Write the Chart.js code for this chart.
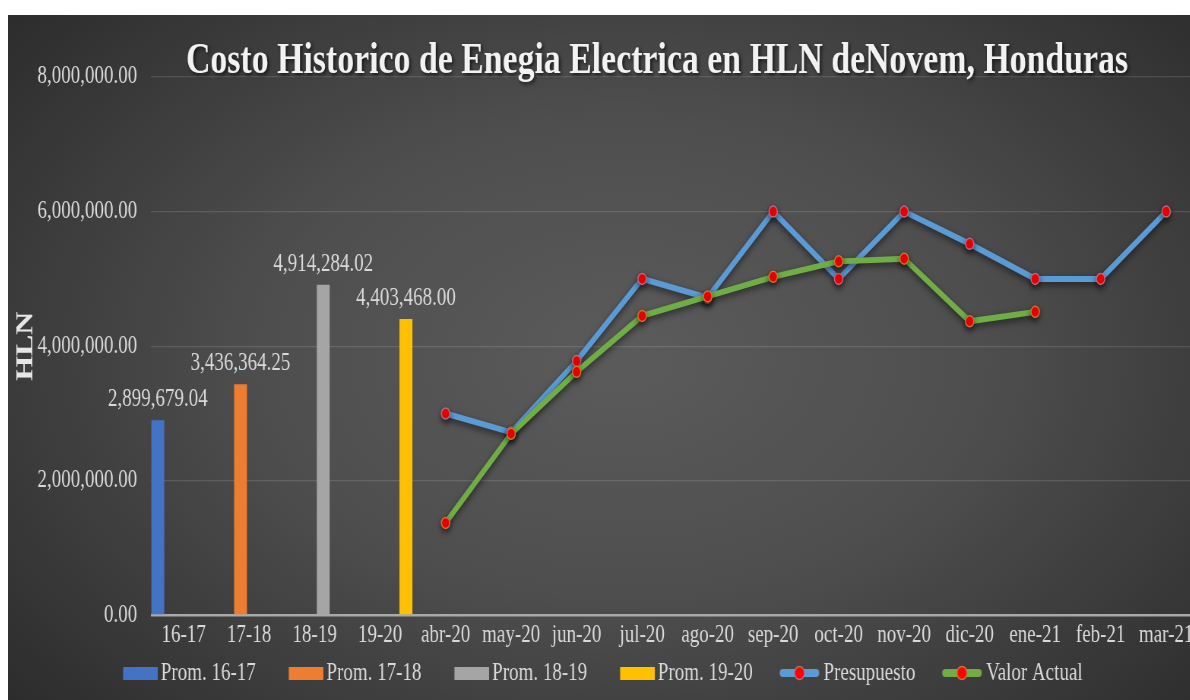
<!DOCTYPE html>
<html>
<head>
<meta charset="utf-8">
<title>Costo Historico de Energia Electrica</title>
<script src="https://cdn.jsdelivr.net/npm/chart.js@4.4.1/dist/chart.umd.min.js"></script>
<style>
  html, body { margin: 0; padding: 0; background: #fff; overflow: hidden; }
  #frame {
    position: absolute; left: 8px; top: 15px; width: 1182px; height: 685px; overflow: hidden;
    background: radial-gradient(ellipse 68% 78% at 52% 50%, #5b5b5b 0%, #4e4e4e 45%, #2c2c2c 100%);
  }
  /* chart is laid out wide and squeezed horizontally */
  #stage { width: 1600px; height: 685px; transform: scaleX(0.76); transform-origin: 0 0; }
</style>
</head>
<body>
<div id="frame">
  <div id="stage"><canvas id="chart"></canvas></div>
</div>
<script>
// ── Data ─────────────────────────────────────
const periods = ['16-17', '17-18', '18-19', '19-20', 'abr-20', 'may-20', 'jun-20', 'jul-20',
  'ago-20', 'sep-20', 'oct-20', 'nov-20', 'dic-20', 'ene-21', 'feb-21', 'mar-21'];

const promLabels = ['Prom. 16-17', 'Prom. 17-18', 'Prom. 18-19', 'Prom. 19-20'];
const promValues = [2899679.04, 3436364.25, 4914284.02, 4403468.00];
const promColors = ['#4472c4', '#ed7d31', '#a5a5a5', '#ffc000'];

const presupuesto = [null, null, null, null, 3000000, 2720000, 3780000, 5000000,
  4720000, 6000000, 5000000, 6000000, 5520000, 5000000, 5000000, 6000000];
const valorActual = [null, null, null, null, 1375000, 2700000, 3620000, 4450000,
  4740000, 5030000, 5260000, 5300000, 4370000, 4510000, null, null];

const yTicks = [0, 2000000, 4000000, 6000000, 8000000];
const chartTitle = 'Costo Historico de Enegia Electrica en HLN deNovem, Honduras';

const FONT = "'Liberation Serif', 'Times New Roman', serif";
const TXT = '#d9d9d9';

const fmt = v => v.toLocaleString('en-US', { minimumFractionDigits: 2, maximumFractionDigits: 2 });

// ── Legend swatches ──────────────────────────
const SW_BOX = 74.5;            // legend box width reserved by Chart.js
const SW_W = SW_BOX + 17;       // canvas width, content sits at its right side
function makeSwatch(ds) {
  const c = document.createElement('canvas');
  c.width = SW_W; c.height = 18;
  const g = c.getContext('2d');
  if (ds.type === 'bar') {
    g.fillStyle = ds.backgroundColor;
    g.fillRect(SW_W - 46, 3, 46, 13);
  } else {
    g.strokeStyle = ds.borderColor;
    g.lineWidth = 8;
    g.lineCap = 'round';
    g.beginPath(); g.moveTo(SW_W - 50, 9); g.lineTo(SW_W - 6, 9); g.stroke();
    g.fillStyle = ds.pointBackgroundColor;
    g.strokeStyle = ds.pointBorderColor;
    g.lineWidth = 1.5;
    g.beginPath(); g.arc(SW_W - 28, 9, 6.5, 0, Math.PI * 2); g.fill(); g.stroke();
  }
  return c;
}

// ── Datasets ─────────────────────────────────
const barSets = promValues.map((v, i) => ({
  type: 'bar',
  label: promLabels[i],
  data: periods.map((_, j) => (j === i ? v : null)),
  backgroundColor: promColors[i],
  categoryPercentage: 1.05,
  barPercentage: 0.75
}));

const lineSets = [
  {
    type: 'line', label: 'Presupuesto', data: presupuesto,
    borderColor: '#5b9bd5', borderWidth: 6, tension: 0,
    pointRadius: 5.5, pointBackgroundColor: '#ff0000', pointBorderColor: '#b86a80', pointBorderWidth: 1.5,
    order: 0
  },
  {
    type: 'line', label: 'Valor Actual', data: valorActual,
    borderColor: '#70ad47', borderWidth: 6, tension: 0,
    pointRadius: 5.5, pointBackgroundColor: '#ff0000', pointBorderColor: '#d0742c', pointBorderWidth: 1.5,
    order: -1
  }
];

const datasets = [...barSets, ...lineSets];
const swatches = datasets.map(makeSwatch);

// ── Plugins ──────────────────────────────────
// value labels above the average bars
const barLabels = {
  id: 'barLabels',
  afterDatasetsDraw(chart) {
    const ctx = chart.ctx;
    ctx.save();
    ctx.font = `25px ${FONT}`;
    ctx.fillStyle = TXT;
    ctx.textAlign = 'center';
    ctx.textBaseline = 'alphabetic';
    chart.data.datasets.forEach((ds, i) => {
      if (ds.type !== 'bar') return;
      chart.getDatasetMeta(i).data.forEach((bar, j) => {
        const v = ds.data[j];
        if (v == null) return;
        ctx.fillText(fmt(v), bar.x, bar.y - 14);
      });
    });
    ctx.restore();
  }
};

// soft drop shadow under the lines
const lineShadow = {
  id: 'lineShadow',
  beforeDatasetDraw(chart, args) {
    if (args.meta.type !== 'line') return;
    const ctx = chart.ctx;
    ctx.save();
    ctx.shadowColor = 'rgba(0,0,0,0.55)';
    ctx.shadowBlur = 7;
    ctx.shadowOffsetY = 3;
  },
  afterDatasetDraw(chart, args) {
    if (args.meta.type !== 'line') return;
    chart.ctx.restore();
  }
};

// move title / legend boxes after layout, and give the title a shadow
const boxNudge = {
  id: 'boxNudge',
  afterLayout(chart) {
    const t = chart.titleBlock;
    t.left += 68; t.right += 68; t.top += 11; t.bottom += 11;
    if (!t._shadowed) {
      const draw = t.draw.bind(t);
      t.draw = (...a) => {
        const ctx = chart.ctx;
        ctx.save();
        ctx.shadowColor = 'rgba(0,0,0,0.7)';
        ctx.shadowBlur = 4;
        ctx.shadowOffsetX = 2;
        ctx.shadowOffsetY = 2;
        draw(...a);
        ctx.restore();
      };
      t._shadowed = true;
    }
    const l = chart.legend;
    l.left -= 22; l.right -= 22;
  }
};

// ── Chart ────────────────────────────────────
new Chart(document.getElementById('chart'), {
  data: { labels: periods, datasets },
  plugins: [barLabels, lineShadow, boxNudge],
  options: {
    responsive: true,
    maintainAspectRatio: false,
    animation: false,
    layout: { padding: { left: 5, right: 33, top: 0, bottom: 4.5 } },
    scales: {
      x: {
        grid: { display: false, drawTicks: false },
        border: { display: false },
        ticks: { color: TXT, font: { family: FONT, size: 25 }, padding: 4.5, maxRotation: 0, autoSkip: false }
      },
      y: {
        min: 0, max: 8000000,
        afterBuildTicks: s => { s.ticks = yTicks.map(v => ({ value: v })); },
        afterFit: s => { s.width = 183; },
        grid: {
          drawTicks: false,
          color: c => (c.tick && c.tick.value === 0 ? '#a9a9a9' : 'rgba(255,255,255,0.13)'),
          lineWidth: c => (c.tick && c.tick.value === 0 ? 2.5 : 1.2)
        },
        border: { display: false },
        ticks: { color: TXT, font: { family: FONT, size: 25 }, padding: 18, callback: v => fmt(v) },
        title: {
          display: true, text: 'HLN', color: '#e6e6e6', padding: 0,
          font: { family: FONT, size: 32, weight: 'bold' }
        }
      }
    },
    plugins: {
      tooltip: { enabled: false },
      title: {
        display: true, text: chartTitle, color: '#f2f2f2',
        font: { family: FONT, size: 44.5, weight: 'bold' },
        padding: { top: 8.5, bottom: 0 }
      },
      legend: {
        position: 'bottom',
        labels: {
          usePointStyle: true,
          pointStyleWidth: SW_BOX,
          padding: 6,
          color: TXT,
          font: { family: FONT, size: 25 },
          generateLabels: chart => chart.data.datasets.map((ds, i) => ({
            text: ds.label,
            fontColor: TXT,
            pointStyle: swatches[i],
            datasetIndex: i,
            hidden: false,
            lineWidth: 0,
            strokeStyle: 'transparent',
            fillStyle: 'transparent'
          }))
        }
      }
    }
  }
});
</script>
</body>
</html>
